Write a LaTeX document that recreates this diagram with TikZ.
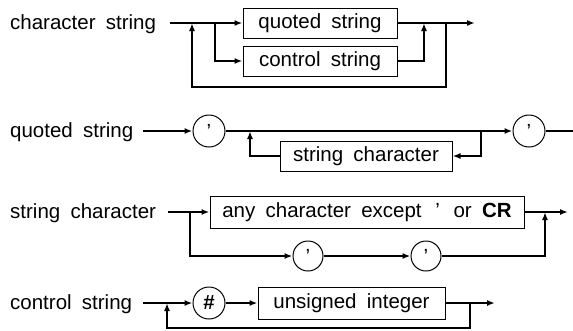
\documentclass[tikz,border=0pt]{standalone}
\usepackage{fontspec}
\setmainfont{Liberation Sans}[WordSpace=1.8]
\usetikzlibrary{arrows.meta}
\begin{document}
\begin{tikzpicture}[x=1pt,y=-1pt,
  txt/.style={font=\fontsize{20.5}{22}\selectfont},
  ln/.style={line width=2pt},
  arr/.style={line width=2pt,-{Latex[length=8pt,width=6pt]}},
  box/.style={draw,line width=1pt,inner sep=0pt,txt},
  term/.style={draw,circle,line width=1pt,minimum size=32pt,inner sep=0pt,txt},
  lbl/.style={anchor=west,inner sep=0pt,txt}]
\useasboundingbox (0,0) rectangle (573,330);
% ---------- character string
\node[lbl] (l1) at (10,24) {character string};
\node[box,minimum width=154pt,minimum height=30pt] (q1) at (320,23) {quoted string};
\node[box,minimum width=154pt,minimum height=30pt] (c1) at (320,61) {control string};
\coordinate (s1) at (170,23);
\coordinate (b1) at (215,23);
\coordinate (j1) at (424,23);
\coordinate (r1) at (446,23);
\coordinate (r1b) at (446,87);
\coordinate (l1b) at (192,87);
\coordinate (lp1) at (192,23);
\coordinate (e1) at (475,23);
\draw[arr] (s1) -- (q1.west);
\draw[arr] (q1.east) -- (e1);
\draw[arr] (b1) |- (c1.west);
\draw[arr] (c1.east) -| (j1);
\draw[arr] (r1) -- (r1b) -- (l1b) -- (lp1);
% ---------- quoted string
\node[lbl] (l2) at (10,132) {quoted string};
\coordinate (s2) at (143,131);
\node[term] (t2a) at (209,131) {’};
\node[term] (t2b) at (529,131) {’};
\node[box,minimum width=172pt,minimum height=30pt] (sc2) at (366,156) {string character};
\coordinate (e2) at (573,131);
\coordinate (r2) at (481,131);
\coordinate (lp2) at (250,131);
\draw[arr] (s2) -- (t2a.west);
\draw[arr] (t2a.east) -- (t2b.west);
\draw[ln] (t2b.east) -- (e2);
\draw[arr] (r2) |- (sc2.east);
\draw[arr] (sc2.west) -| (lp2);
% ---------- string character
\node[lbl] (l3) at (10,213) {string character};
\coordinate (s3) at (168,212);
\coordinate (b3) at (190,212);
\node[box,minimum width=314pt,minimum height=32pt] (a3) at (367,212) {any character except \,’\, or \textbf{CR}};
\node[term,minimum size=30pt] (t3a) at (308,256) {’};
\node[term,minimum size=30pt] (t3b) at (426,256) {’};
\coordinate (j3) at (545,212);
\coordinate (e3) at (568,212);
\draw[arr] (s3) -- (a3.west);
\draw[arr] (a3.east) -- (e3);
\draw[arr] (b3) |- (t3a.west);
\draw[arr] (t3a.east) -- (t3b.west);
\draw[arr] (t3b.east) -| (j3);
% ---------- control string
\node[lbl] (l4) at (10,304) {control string};
\coordinate (s4) at (143,303);
\node[term] (t4) at (209,303) {\textbf{\#}};
\node[box,minimum width=187pt,minimum height=32pt] (u4) at (351.5,303) {unsigned integer};
\coordinate (e4) at (495,303);
\coordinate (r4) at (470,303);
\coordinate (r4b) at (470,328);
\coordinate (l4b) at (167,328);
\coordinate (lp4) at (167,303);
\draw[arr] (s4) -- (t4.west);
\draw[arr] (t4.east) -- (u4.west);
\draw[arr] (u4.east) -- (e4);
\draw[arr] (r4) -- (r4b) -- (l4b) -- (lp4);
\end{tikzpicture}
\end{document}
